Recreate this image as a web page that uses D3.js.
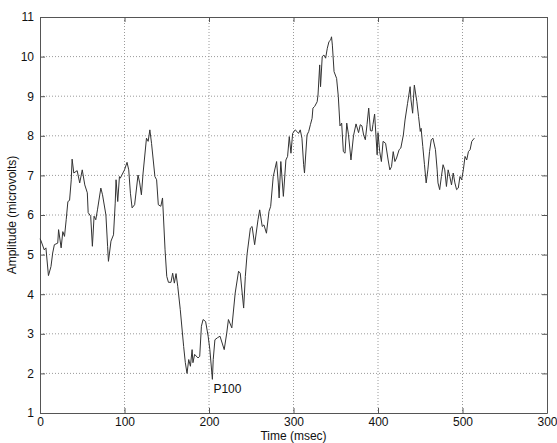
<!DOCTYPE html>
<html>
<head>
<meta charset="utf-8">
<script src="https://cdn.jsdelivr.net/npm/d3@7"></script>
<style>
	body { margin: 0; background: #fff; }
	svg text { font-family: "Liberation Sans", Arial, sans-serif; font-size: 12px; fill: #111; }
	.grid line { stroke: #9a9a9a; stroke-dasharray: 1,2; }
	.axis path, .axis line { stroke: #555; }
	.trace { fill: none; stroke: #333; stroke-width: 1; }
</style>
</head>
<body>
<svg id="chart" width="557" height="443"></svg>
<script>
// time (msec) and amplitude (microvolts)
var time = [0, 1, 5, 7, 10, 13, 15, 17, 21, 22, 25, 27, 29, 31, 33, 35, 37, 38, 40, 44, 47, 50, 53, 56, 57,
	60, 62, 64, 66, 68, 72, 74, 78, 80, 81, 84, 87, 89, 90, 92, 94, 95, 100, 103, 105, 107, 109, 112,
	116, 118, 120, 122, 126, 128, 130, 132, 136, 138, 140, 143, 145, 146, 148, 150, 152, 155, 157, 159,
	161, 163, 166, 170, 172, 174, 176, 178, 180, 181, 183, 187, 189, 191, 193, 196, 199, 201, 204, 205,
	207, 210, 213, 218, 221, 223, 227, 231, 235, 237, 241, 243, 245, 249, 251, 254, 258, 260, 263, 265,
	268, 271, 273, 276, 280, 282, 283, 285, 288, 291, 293, 295, 297, 299, 302, 304, 306, 308, 310, 312,
	313, 316, 318, 320, 322, 323, 325, 328, 329, 331, 332, 334, 336, 338, 340, 342, 344, 345, 346, 348,
	351, 353, 355, 357, 359, 361, 363, 365, 368, 371, 374, 377, 379, 381, 383, 385, 387, 389, 391, 393,
	394, 396, 399, 400, 402, 404, 406, 409, 412, 414, 416, 418, 420, 422, 425, 427, 430, 432, 435, 438,
	439, 441, 442, 443, 446, 448, 450, 451, 453, 455, 457, 459, 461, 463, 465, 468, 470, 471, 473, 475,
	477, 479, 481, 483, 485, 487, 489, 491, 493, 495, 497, 499, 501, 503, 505, 507, 509, 511, 514];
var amplitude = [5.4, 5.36, 5.12, 5.17, 4.47, 4.7, 5.04, 5.25, 5.29, 5.63, 5.17, 5.58, 5.46, 5.88, 6.34, 6.37, 6.89, 7.41, 7.06, 7.12, 6.81, 7.14, 6.76, 6.56, 6.06,
	5.97, 5.21, 5.97, 5.88, 6.13, 6.68, 6.51, 6.0, 5.21, 4.83, 5.34, 5.5, 6.3, 6.89, 6.34, 6.97, 6.93, 7.14, 7.33, 7.14, 6.55, 6.18, 6.26,
	7.01, 6.81, 6.51, 7.06, 7.94, 7.86, 8.15, 7.81, 6.97, 6.89, 6.26, 6.22, 6.43, 6.0, 5.12, 4.45, 4.3, 4.3, 4.53, 4.28,
	4.52, 4.2, 3.61, 2.68, 2.27, 2.0, 2.35, 2.18, 2.6, 2.27, 2.48, 2.39, 2.43, 3.19, 3.36, 3.31, 2.94, 2.6, 1.85, 2.35,
	2.85, 2.9, 2.94, 2.6, 3.02, 3.36, 3.15, 4.03, 4.58, 4.53, 3.65, 4.45, 5.0, 5.67, 5.71, 5.25, 5.88, 6.13, 5.71, 5.75,
	5.54, 6.09, 6.22, 6.97, 7.35, 6.81, 6.43, 7.35, 6.47, 7.39, 7.48, 7.98, 7.56, 8.06, 8.15, 8.11, 8.06, 8.15, 7.94, 7.27,
	7.06, 8.02, 8.11, 8.28, 8.44, 8.7, 8.74, 8.86, 9.03, 9.79, 9.24, 10.0, 10.04, 9.96, 10.21, 10.38, 10.42, 10.5, 10.29, 9.62,
	9.45, 9.0, 8.25, 8.32, 7.6, 7.56, 8.32, 8.04, 7.39, 8.0, 8.3, 8.08, 8.28, 8.25, 8.02, 7.9, 8.28, 8.7, 8.13, 8.12,
	8.28, 8.55, 7.52, 8.08, 7.6, 7.35, 7.86, 7.81, 7.39, 7.14, 7.22, 7.6, 7.35, 7.44, 7.65, 7.69, 8.02, 8.4, 8.82, 9.24,
	8.91, 8.57, 8.95, 9.28, 8.86, 8.49, 8.11, 8.19, 7.73, 7.27, 6.81, 7.14, 7.6, 7.9, 7.94, 7.65, 7.14, 6.81, 6.64, 6.97,
	7.27, 7.14, 6.72, 7.14, 6.97, 6.76, 7.06, 6.81, 6.64, 6.68, 6.97, 6.89, 7.14, 7.48, 7.39, 7.6, 7.65, 7.86, 7.94];

var xTicks = [0, 100, 200, 300, 400, 500, 600];
var xTickLabels = ["0", "100", "200", "300", "400", "500", "300"];
var yTicks = [1, 2, 3, 4, 5, 6, 7, 8, 9, 10, 11];

var peakLabel = "P100", peakTime = 204, peakAmp = 1.85;

var svg = d3.select("svg#chart"),
	margin = {top: 17, right: 10, bottom: 30, left: 40},
	width = +svg.attr("width") - margin.left - margin.right,
	height = +svg.attr("height") - margin.top - margin.bottom;
var g = svg.append("g").attr("transform", "translate(" + margin.left + "," + margin.top + ")");

var x = d3.scaleLinear().domain([0, 600]).range([0, width]);
var y = d3.scaleLinear().domain([1, 11]).range([height, 0]);

// dotted grid
g.append("g")
	.attr("class", "grid")
	.selectAll("line.gx")
	.data(xTicks.slice(1, -1))
	.enter().append("line")
	.attr("x1", function(d) { return x(d); })
	.attr("x2", function(d) { return x(d); })
	.attr("y1", 0).attr("y2", height);
g.select("g.grid")
	.selectAll("line.gy")
	.data(yTicks.slice(1, -1))
	.enter().append("line")
	.attr("x1", 0).attr("x2", width)
	.attr("y1", function(d) { return y(d); })
	.attr("y2", function(d) { return y(d); });

// axes, ticks pointing inward on all four sides
g.append("g")
	.attr("class", "axis axis--x")
	.attr("transform", "translate(0," + height + ")")
	.call(d3.axisBottom(x).tickValues(xTicks).tickSize(-5).tickSizeOuter(0).tickPadding(4)
		.tickFormat(function(d, i) { return xTickLabels[i]; }));
g.append("g")
	.attr("class", "axis")
	.call(d3.axisTop(x).tickValues(xTicks).tickSize(-5).tickSizeOuter(0).tickFormat(""));
g.append("g")
	.attr("class", "axis axis--y")
	.call(d3.axisLeft(y).tickValues(yTicks).tickSize(-5).tickSizeOuter(0).tickPadding(6));
g.append("g")
	.attr("class", "axis")
	.attr("transform", "translate(" + width + ",0)")
	.call(d3.axisRight(y).tickValues(yTicks).tickSize(-5).tickSizeOuter(0).tickFormat(""));

svg.selectAll(".axis text").style("font-size", "12px").attr("fill", "#111");

var line = d3.line()
	.x(function(d, i) { return x(time[i]); })
	.y(function(d) { return y(d); });

g.append("path")
	.datum(amplitude)
	.attr("class", "trace")
	.attr("d", line);

g.append("text")
	.attr("x", x(peakTime) + 1)
	.attr("y", y(peakAmp) + 14)
	.text(peakLabel);

// axis titles
svg.append("text")
	.attr("x", margin.left + width / 2)
	.attr("y", 440)
	.attr("text-anchor", "middle")
	.text("Time (msec)");
svg.append("text")
	.attr("transform", "translate(16," + (margin.top + height / 2) + ") rotate(-90)")
	.attr("text-anchor", "middle")
	.text("Amplitude (microvolts)");
</script>
</body>
</html>
